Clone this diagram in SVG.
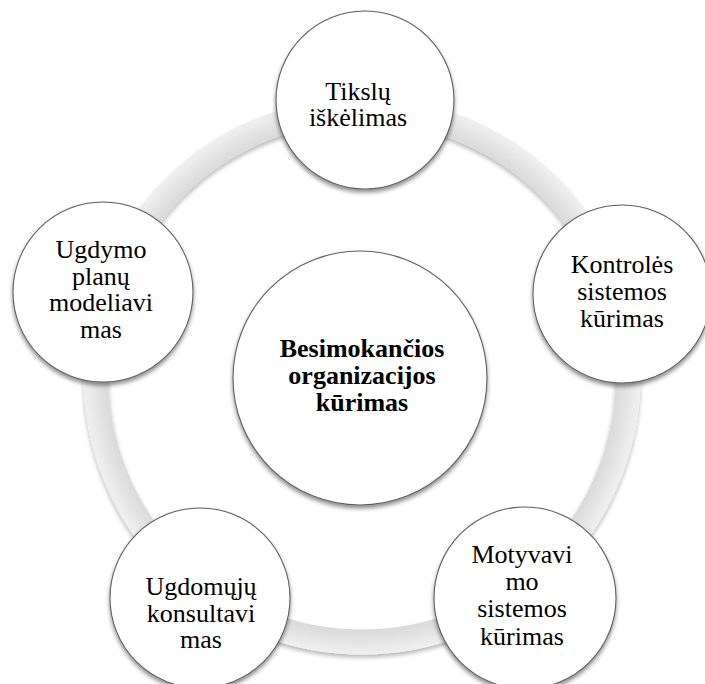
<svg xmlns="http://www.w3.org/2000/svg" width="705" height="684" viewBox="0 0 705 684">
  <defs>
    <radialGradient id="ringShade" gradientUnits="userSpaceOnUse" cx="362" cy="376" r="279">
      <stop offset="0" stop-color="#d4d4d4"/>
      <stop offset="0.905" stop-color="#d9d9d9"/>
      <stop offset="0.96" stop-color="#e6e6e6"/>
      <stop offset="1" stop-color="#f0f0f0"/>
    </radialGradient>
    <filter id="ringShadow" x="-10%" y="-10%" width="120%" height="120%">
      <feDropShadow dx="0" dy="3" stdDeviation="2" flood-color="#000" flood-opacity="0.28"/>
    </filter>
    <filter id="nodeShadow" x="-10%" y="-10%" width="120%" height="125%">
      <feDropShadow dx="0" dy="3" stdDeviation="2.2" flood-color="#000" flood-opacity="0.45"/>
    </filter>
  </defs>
  <style>
    .node { fill: #ffffff; stroke: #5f5f5f; stroke-width: 1.1; filter: url(#nodeShadow); }
    text { font-family: 'Liberation Serif', 'DejaVu Serif', 'Times New Roman', serif; font-size: 26px; fill: #000; text-anchor: middle; }
    .hub { font-weight: bold; }
  </style>

  <rect width="705" height="684" fill="#ffffff"/>

  <!-- cycle ring linking the outer steps -->
  <g id="connectors">
    <circle cx="362" cy="376" r="266" fill="none" stroke="url(#ringShade)" stroke-width="25" filter="url(#ringShadow)"/>
  </g>

  <g id="hub" font-family="Liberation Serif, serif">
    <circle class="node" cx="360" cy="378" r="127"/>
    <text class="hub" x="362" y="357">Besimokančios</text>
    <text class="hub" x="362" y="384">organizacijos</text>
    <text class="hub" x="362" y="411">kūrimas</text>
  </g>

  <g id="step-goals" font-family="Liberation Serif, serif">
    <circle class="node" cx="365" cy="100" r="89"/>
    <text x="358" y="100">Tikslų</text>
    <text x="358" y="126">iškėlimas</text>
  </g>

  <g id="step-control" font-family="Liberation Serif, serif">
    <circle class="node" cx="622" cy="294" r="89"/>
    <text x="622" y="273">Kontrolės</text>
    <text x="622" y="300">sistemos</text>
    <text x="622" y="327">kūrimas</text>
  </g>

  <g id="step-motivation" font-family="Liberation Serif, serif">
    <circle class="node" cx="525" cy="598" r="91"/>
    <text x="522" y="563">Motyvavi</text>
    <text x="522" y="590">mo</text>
    <text x="522" y="617">sistemos</text>
    <text x="522" y="645">kūrimas</text>
  </g>

  <g id="step-consulting" font-family="Liberation Serif, serif">
    <circle class="node" cx="200" cy="598" r="90"/>
    <text x="201" y="595">Ugdomųjų</text>
    <text x="201" y="622">konsultavi</text>
    <text x="201" y="648">mas</text>
  </g>

  <g id="step-planning" font-family="Liberation Serif, serif">
    <circle class="node" cx="103" cy="292" r="90"/>
    <text x="101" y="258">Ugdymo</text>
    <text x="101" y="285">planų</text>
    <text x="101" y="311">modeliavi</text>
    <text x="101" y="338">mas</text>
  </g>
</svg>
